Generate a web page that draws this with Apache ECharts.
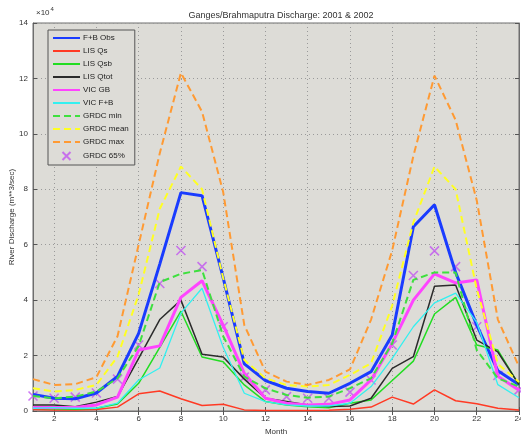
<!DOCTYPE html>
<html>
<head>
<meta charset="utf-8">
<script src="https://cdn.jsdelivr.net/npm/echarts@6/dist/echarts.min.js"></script>
<style>
html,body{margin:0;padding:0;background:#fff;}
#c{width:521px;height:437px;}
</style>
</head>
<body>
<div id="c"></div>
<script>
// Months 1..24 (2001 & 2002)
const months = ['1','2','3','4','5','6','7','8','9','10','11','12','13','14','15','16','17','18','19','20','21','22','23','24'];
const yTicks = [0, 2, 4, 6, 8, 10, 12, 14];
const legendNames = ['F+B Obs', 'LIS Qs', 'LIS Qsb', 'LIS Qtot', 'VIC GB', 'VIC F+B', 'GRDC min', 'GRDC mean', 'GRDC max', 'GRDC 65%'];
// values in units of 10^4 m^3/sec
const fbObs   = [0.6, 0.46, 0.44, 0.65, 1.25, 2.8, 5.3, 7.88, 7.77, 4.8, 1.7, 1.1, 0.82, 0.7, 0.64, 1.0, 1.42, 2.74, 6.65, 7.44, 5.0, 3.1, 1.45, 0.95];
const lisQs   = [0.05, 0.04, 0.04, 0.05, 0.14, 0.62, 0.72, 0.44, 0.2, 0.24, 0.04, 0.02, 0.02, 0.02, 0.03, 0.06, 0.14, 0.5, 0.25, 0.76, 0.37, 0.26, 0.1, 0.04];
const lisQsb  = [0.1, 0.08, 0.06, 0.1, 0.25, 1.0, 2.3, 3.6, 1.95, 1.78, 0.94, 0.34, 0.22, 0.15, 0.12, 0.28, 0.4, 1.1, 1.8, 3.5, 4.1, 2.38, 2.2, 0.94];
const lisQtot = [0.22, 0.22, 0.15, 0.32, 0.52, 1.9, 3.3, 4.0, 2.05, 1.95, 1.15, 0.46, 0.34, 0.22, 0.16, 0.18, 0.46, 1.54, 1.96, 4.5, 4.55, 2.56, 2.13, 0.95];
const vicGB   = [0.13, 0.13, 0.13, 0.22, 0.5, 2.2, 2.35, 4.1, 4.7, 3.1, 1.36, 0.46, 0.28, 0.22, 0.24, 0.4, 1.12, 2.44, 4.0, 4.95, 4.62, 4.73, 1.25, 0.75];
const vicFB   = [0.1, 0.12, 0.1, 0.1, 0.28, 1.12, 1.55, 3.53, 4.43, 2.3, 0.64, 0.34, 0.22, 0.18, 0.18, 0.28, 0.88, 1.9, 3.04, 3.9, 4.25, 3.2, 0.95, 0.48];
const grdcMin = [0.54, 0.46, 0.52, 0.7, 1.18, 2.35, 4.65, 4.95, 5.09, 2.7, 1.24, 0.82, 0.58, 0.48, 0.52, 0.82, 1.18, 2.44, 4.73, 5.0, 5.0, 2.2, 1.18, 0.88];
const grdcMean= [0.82, 0.7, 0.76, 0.94, 1.96, 4.2, 7.3, 8.82, 8.0, 4.8, 1.84, 1.18, 0.94, 0.88, 0.94, 1.3, 1.72, 3.8, 6.8, 8.82, 8.0, 4.4, 1.7, 1.05];
const grdcMax = [1.15, 0.94, 0.97, 1.22, 2.7, 6.0, 9.3, 12.2, 10.8, 7.9, 3.1, 1.42, 1.06, 0.94, 1.12, 1.5, 3.3, 5.8, 9.2, 12.1, 10.5, 7.6, 3.3, 1.6];
const grdc65  = [0.54, 0.46, 0.5, 0.65, 1.15, 2.38, 4.6, 5.79, 5.21, 3.04, 1.22, 0.76, 0.52, 0.46, 0.46, 0.68, 1.12, 2.38, 4.89, 5.78, 5.21, 3.04, 1.28, 0.76];

const FONT = '"Liberation Sans Narrow", "Liberation Sans", Arial, sans-serif';
const TXT = '#333';
const evenIdx = (i) => i % 2 === 1;

function lineSeries(name, data, color, width, dashed) {
  return {
    name, type: 'line', data,
    symbol: 'none', showSymbol: false,
    lineStyle: { color, width, type: dashed ? [7, 4] : 'solid' },
    itemStyle: { color },
    animation: false
  };
}

const chart = echarts.init(document.getElementById('c'), null, { renderer: 'canvas' });
chart.setOption({
  backgroundColor: '#ffffff',
  animation: false,
  title: {
    text: 'Ganges/Brahmaputra Discharge: 2001 & 2002',
    left: 276, top: 6, textAlign: 'center',
    textStyle: { fontFamily: FONT, fontSize: 9, fontWeight: 'normal', color: TXT }
  },
  graphic: [{
    type: 'text', left: 36, top: 6,
    style: {
      text: '{a|×10}{b|4}',
      rich: {
        a: { fontFamily: FONT, fontSize: 8, fill: TXT, padding: [4, 0, 0, 0] },
        b: { fontFamily: FONT, fontSize: 6, fill: TXT, padding: [0, 0, 4, 1] }
      }
    }
  }],
  grid: {
    left: 33, right: 2, top: 23, bottom: 26,
    containLabel: false, outerBoundsMode: 'none',
    show: true, backgroundColor: '#dddcd7', borderColor: '#6e6e6e', borderWidth: 1
  },
  legend: {
    orient: 'vertical', left: 48, top: 30,
    itemWidth: 27, itemHeight: 8, itemGap: 5,
    padding: [4, 6, 4, 4],
    backgroundColor: '#dddcd7', borderColor: '#555', borderWidth: 1,
    textStyle: { fontFamily: FONT, fontSize: 8, color: '#222', padding: [0, 0, 0, -2] },
    data: legendNames.map((n, i) => i < 9
      ? { name: n, itemStyle: { opacity: 0 } }
      : { name: n })
  },
  xAxis: [{
    type: 'category', data: months, boundaryGap: false,
    name: 'Month', nameLocation: 'middle', nameGap: 15,
    nameTextStyle: { fontFamily: FONT, fontSize: 8, color: TXT },
    axisLine: { lineStyle: { color: '#6e6e6e' } },
    axisTick: { inside: true, length: 4, interval: evenIdx, lineStyle: { color: '#555' } },
    axisLabel: { interval: evenIdx, fontFamily: FONT, fontSize: 8, color: TXT, margin: 4 },
    splitLine: { show: true, interval: evenIdx, lineStyle: { color: '#9a9a9a', type: [1, 3], width: 1 } }
  }, {
    type: 'category', data: months, boundaryGap: false, position: 'top',
    axisLine: { lineStyle: { color: '#6e6e6e' } },
    axisTick: { inside: true, length: 4, interval: evenIdx, lineStyle: { color: '#555' } },
    axisLabel: { show: false }, splitLine: { show: false }
  }],
  yAxis: [{
    type: 'value', min: 0, max: 14, interval: 2,
    name: 'River Discharge (m**3/sec)', nameLocation: 'middle', nameGap: 17,
    nameMoveOverlap: false,
    nameTextStyle: { fontFamily: FONT, fontSize: 8, color: TXT },
    axisLine: { show: true, lineStyle: { color: '#6e6e6e' } },
    axisTick: { show: true, inside: true, length: 4, lineStyle: { color: '#555' } },
    axisLabel: { fontFamily: FONT, fontSize: 8, color: TXT, margin: 5,
      formatter: (v) => yTicks.includes(v) ? String(v) : '' },
    splitLine: { show: true, lineStyle: { color: '#9a9a9a', type: [1, 3], width: 1 } }
  }, {
    type: 'value', min: 0, max: 14, interval: 2, position: 'right',
    axisLine: { show: true, lineStyle: { color: '#6e6e6e' } },
    axisTick: { show: true, inside: true, length: 4, lineStyle: { color: '#555' } },
    axisLabel: { show: false }, splitLine: { show: false }
  }],
  series: [
    lineSeries('F+B Obs', fbObs, '#1a3cff', 3, false),
    lineSeries('LIS Qs', lisQs, '#ff3a24', 1.5, false),
    lineSeries('LIS Qsb', lisQsb, '#22dd22', 1.5, false),
    lineSeries('LIS Qtot', lisQtot, '#2b2b2b', 1.5, false),
    lineSeries('VIC GB', vicGB, '#ff44ff', 3, false),
    lineSeries('VIC F+B', vicFB, '#33f0f0', 1.3, false),
    lineSeries('GRDC min', grdcMin, '#3ee03e', 2, true),
    lineSeries('GRDC mean', grdcMean, '#ffff22', 2, true),
    lineSeries('GRDC max', grdcMax, '#ff9a33', 2, true),
    {
      name: 'GRDC 65%', type: 'scatter', data: grdc65,
      symbol: 'path://M0,0L10,10M10,0L0,10', symbolSize: 9,
      itemStyle: { color: 'rgba(0,0,0,0)', borderColor: '#c256f0', borderWidth: 1.6 },
      animation: false
    }
  ]
});
</script>
</body>
</html>
